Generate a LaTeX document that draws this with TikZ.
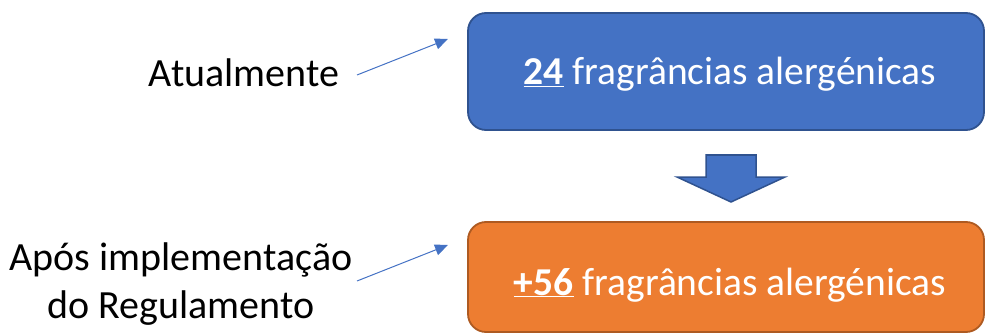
\documentclass[tikz,border=0pt]{standalone}
\usepackage{fontspec}
\setmainfont{Carlito}
\usetikzlibrary{arrows.meta}
\definecolor{bfill}{HTML}{4472C4}
\definecolor{bline}{HTML}{2F528F}
\definecolor{ofill}{HTML}{ED7D31}
\definecolor{oline}{HTML}{AE5A21}
\begin{document}
\begin{tikzpicture}[x=1pt,y=-1pt,
  box/.style={rounded corners=18pt, line width=1.8pt, minimum width=516pt, inner sep=0pt},
  btext/.style={anchor=base, text=white, inner sep=0pt, font=\fontsize{39.5}{47}\selectfont},
  lbl/.style={font=\fontsize{40}{48}\selectfont, anchor=base, inner sep=0pt, text=black},
  ptr/.style={draw=bfill, line width=1pt, -{Triangle[length=13pt,width=11pt]}}]
\useasboundingbox (0,0) rectangle (985,334);
\node[box, fill=bfill, draw=bline, minimum height=117pt] (b1) at (726,71.5) {};
\node[box, fill=ofill, draw=oline, minimum height=110pt] (b2) at (726,277) {};
\node[btext] (t1) at (730,85) {\textbf{\underline{24}} fragrâncias alergénicas};
\node[btext] (t2) at (730,295) {\textbf{\underline{+56}} fragrâncias alergénicas};
\node[lbl] (l1) at (244,87) {Atualmente};
\node[lbl] (l2) at (181,270) {Após implementação};
\node[lbl] (l3) at (181,318) {do Regulamento};
\coordinate (a1s) at (357,75);
\coordinate (a1e) at (448,39);
\coordinate (a2s) at (357,281);
\coordinate (a2e) at (448,245);
\draw[ptr] (a1s) -- (a1e);
\draw[ptr] (a2s) -- (a2e);
\draw[fill=bfill, draw=bline, line width=1.5pt, line join=miter] (706,155) -- (756,155) -- (756,177) -- (785,177) -- (731,202) -- (677,177) -- (706,177) -- cycle;
\end{tikzpicture}
\end{document}
